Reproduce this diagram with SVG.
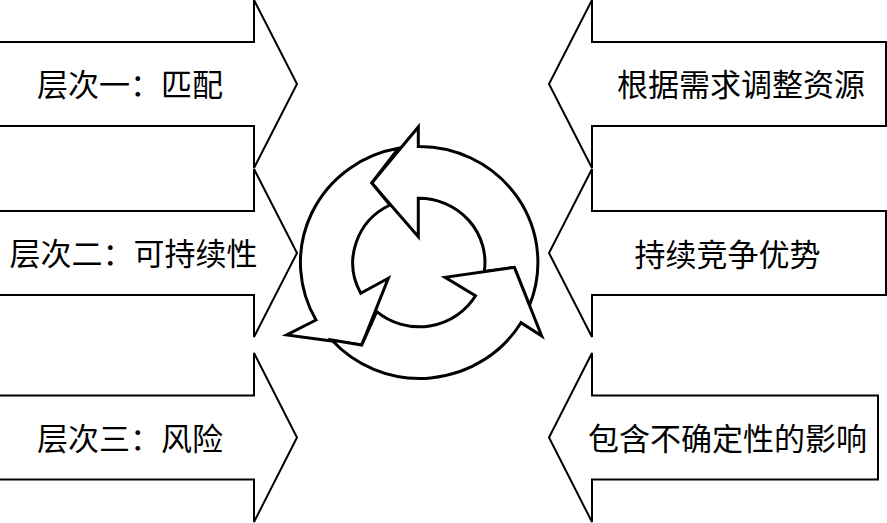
<svg xmlns="http://www.w3.org/2000/svg" width="887" height="523" viewBox="0 0 887 523">
<style>
.arr{fill:#fff;stroke:#000;stroke-width:2;stroke-linejoin:miter}
.cyc{fill:#fff;stroke:#000;stroke-width:3;stroke-linejoin:miter}
.lbl{font-family:'Noto Sans CJK SC','Noto Sans CJK JP',sans-serif;font-size:31px;fill:#000;text-anchor:middle}
</style>
<rect width="887" height="523" fill="#fff"/>
<g id="level1">
<polygon class="arr" points="-5,42 254,42 254,0 297,84 254,168 254,126 -5,126"/>
<text class="lbl" x="130" y="96">层次一：匹配</text>
</g>
<g id="level2">
<polygon class="arr" points="-5,211 254,211 254,169 297,253 254,337 254,295 -5,295"/>
<text class="lbl" x="133.5" y="265">层次二：可持续性</text>
</g>
<g id="level3">
<polygon class="arr" points="-5,395.5 254,395.5 254,353 297,437.5 254,522 254,479.5 -5,479.5"/>
<text class="lbl" x="130" y="449.5">层次三：风险</text>
</g>
<g id="adjust">
<polygon class="arr" points="886,42 592,42 592,0 549,84 592,168 592,126 886,126"/>
<text class="lbl" x="741" y="96">根据需求调整资源</text>
</g>
<g id="advantage">
<polygon class="arr" points="886,211 592,211 592,169 549,253 592,337 592,295 886,295"/>
<text class="lbl" x="727.5" y="266">持续竞争优势</text>
</g>
<g id="uncertainty">
<polygon class="arr" points="878,395.5 592,395.5 592,353 549,437.5 592,522 592,479.5 878,479.5"/>
<text class="lbl" x="727.5" y="450">包含不确定性的影响</text>
</g>
<g id="cycle">
<path class="cyc" d="M418.3,146.5 A118.5,116 0 0 1 529.5,305.4 L514.3,267.3 L484.3,271.6 A65.8,64.2 0 0 0 418.3,198.3 L418.3,236.7 L371.7,183 L418.3,127 Z"/>
<path class="cyc" d="M316,320 A118.5,116 0 0 1 398.3,148.3 L371.7,183 L390,205 A65.8,64.2 0 0 0 360.7,293.3 L388.3,278.3 L361.7,345 L286.7,335 Z"/>
<path class="cyc" d="M521,322.7 A118.5,116 0 0 1 331.7,340 L361.7,345 L376.7,311.7 A65.8,64.2 0 0 0 475.5,295.8 L445,277.3 L514.3,267.3 L541.7,336 Z"/>
</g>
</svg>
